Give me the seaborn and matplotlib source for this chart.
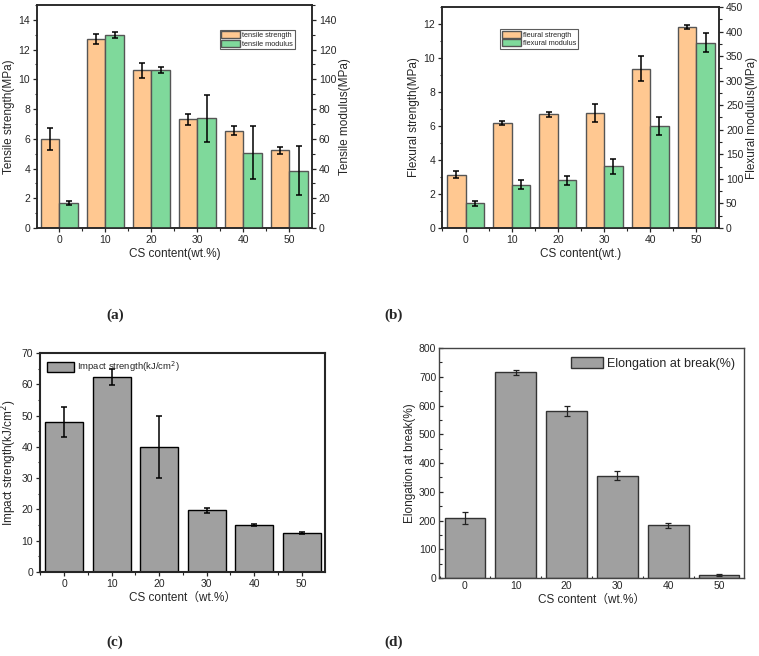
import pandas as pd
import numpy as np
import matplotlib
matplotlib.use('Agg')
import matplotlib.pyplot as plt
import matplotlib.patches as mpatches
from matplotlib.ticker import MultipleLocator, FixedLocator
import seaborn as sns

# data
cs = ['0', '10', '20', '30', '40', '50']

tensile_strength = [6.0, 12.7, 10.6, 7.3, 6.55, 5.22]
tensile_strength_err = [0.75, 0.33, 0.5, 0.37, 0.3, 0.25]
tensile_modulus = [16.9, 129.7, 106.3, 73.9, 50.7, 38.5]
tensile_modulus_err = [1.2, 1.8, 1.9, 15.8, 18.0, 16.5]

flex_strength = [3.14, 6.15, 6.68, 6.78, 9.38, 11.8]
flex_strength_err = [0.2, 0.12, 0.17, 0.54, 0.74, 0.12]
flex_modulus = [50.7, 88.0, 96.8, 125.8, 208.0, 377.0]
flex_modulus_err = [5.0, 9.0, 9.5, 15.5, 19.0, 19.5]

impact = [48.0, 62.2, 40.1, 19.7, 14.9, 12.6]
impact_err = [4.7, 2.6, 9.9, 0.9, 0.35, 0.3]

elongation = [209, 715, 581, 356, 183, 10.5]
elongation_err = [20, 8, 16, 16, 9.5, 2]

ORANGE = '#FFC891'
GREEN = '#7FD99B'
GRAY = '#A0A0A0'
TICK_FS = 7.5
LABEL_FS = 8.5

sns.set_theme(style='ticks')
plt.rcParams['font.family'] = ['Liberation Sans', 'Noto Sans CJK SC', 'DejaVu Sans']
plt.rcParams['axes.linewidth'] = 1.1

fig = plt.figure(figsize=(7.59, 6.56), dpi=100)


def add_err(ax, patches, errs):
    xs = [p.get_x() + p.get_width() / 2 for p in patches]
    ys = [p.get_height() for p in patches]
    ax.errorbar(xs, ys, yerr=errs, fmt='none', ecolor='black', elinewidth=1.1,
                capsize=2.2, capthick=1.1, zorder=5)


def style_axis(ax, direction='out'):
    ax.tick_params(axis='both', labelsize=TICK_FS, direction=direction, length=3, width=0.9, pad=2)
    ax.tick_params(axis='both', which='minor', direction=direction, length=1.8, width=0.8)
    ax.xaxis.set_minor_locator(FixedLocator([-0.5, 0.5, 1.5, 2.5, 3.5, 4.5, 5.5]))
    for s in ax.spines.values():
        s.set_visible(True)


def twin_panel(rect, left_vals, left_err, right_vals, right_err, names, ylims,
               ylabels, xlabel, legend_loc, xlim):
    ax = fig.add_axes(rect)
    ax2 = ax.twinx()
    nan6 = [np.nan] * len(cs)
    # each axis gets both hue levels so the bars dodge; the other series is blank
    df1 = pd.DataFrame({'cs': cs * 2, 'val': list(left_vals) + nan6,
                        'series': [names[0]] * 6 + [names[1]] * 6})
    df2 = pd.DataFrame({'cs': cs * 2, 'val': nan6 + list(right_vals),
                        'series': [names[0]] * 6 + [names[1]] * 6})
    for a, d in [(ax, df1), (ax2, df2)]:
        sns.barplot(data=d, x='cs', y='val', hue='series', hue_order=names, order=cs,
                    palette=[ORANGE, GREEN], width=0.8, errorbar=None, ax=a,
                    edgecolor='#555555', linewidth=1.0, saturation=1, legend=False)
    p1 = [p for p in ax.patches if p.get_height() > 0]
    p2 = [p for p in ax2.patches if p.get_height() > 0]
    add_err(ax, p1, left_err)
    add_err(ax2, p2, right_err)
    ax.set_ylim(*ylims[0])
    ax2.set_ylim(*ylims[1])
    ax.set_xlim(*xlim)
    ax.set_ylabel(ylabels[0], fontsize=LABEL_FS, labelpad=2)
    ax2.set_ylabel(ylabels[1], fontsize=LABEL_FS, labelpad=2)
    ax.set_xlabel(xlabel, fontsize=LABEL_FS, labelpad=2)
    style_axis(ax)
    style_axis(ax2)
    handles = [mpatches.Patch(facecolor=ORANGE, edgecolor='#555555', label=names[0]),
               mpatches.Patch(facecolor=GREEN, edgecolor='#555555', label=names[1])]
    leg = ax2.legend(handles=handles, loc='upper left', bbox_to_anchor=legend_loc,
                     fontsize=5.3, frameon=True, fancybox=False, edgecolor='#333333',
                     handlelength=2.6, handleheight=1.1, borderpad=0.2,
                     labelspacing=0.1, handletextpad=0.3, borderaxespad=0)
    leg.get_frame().set_linewidth(0.8)
    return ax, ax2


# (a) tensile
ax_a, ax_a2 = twin_panel([0.0487, 0.6524, 0.3623, 0.34],
                         tensile_strength, tensile_strength_err,
                         tensile_modulus, tensile_modulus_err,
                         ['tensile strength', 'tensile modulus'],
                         [(0, 15), (0, 150)],
                         ['Tensile strength(MPa)', 'Tensile modulus(MPa)'],
                         'CS content(wt.%)', (0.664, 0.89), (-0.49, 5.49))
ax_a.yaxis.set_major_locator(MultipleLocator(2))
ax_a.yaxis.set_minor_locator(MultipleLocator(1))
ax_a2.yaxis.set_major_locator(MultipleLocator(20))
ax_a2.yaxis.set_minor_locator(MultipleLocator(10))

# (b) flexural
ax_b, ax_b2 = twin_panel([0.5823, 0.6524, 0.365, 0.337],
                         flex_strength, flex_strength_err,
                         flex_modulus, flex_modulus_err,
                         ['fleural strength', 'flexural modulus'],
                         [(0, 13), (0, 450)],
                         ['Flexural strength(MPa)', 'Flexural modulus(MPa)'],
                         'CS content(wt.)', (0.21, 0.90), (-0.51, 5.49))
ax_b.yaxis.set_major_locator(MultipleLocator(2))
ax_b.yaxis.set_minor_locator(MultipleLocator(1))
ax_b2.yaxis.set_major_locator(MultipleLocator(50))
ax_b2.yaxis.set_minor_locator(MultipleLocator(25))

# (c) impact
ax_c = fig.add_axes([0.0527, 0.128, 0.3755, 0.334])
df_c = pd.DataFrame({'cs': cs, 'val': impact})
sns.barplot(data=df_c, x='cs', y='val', order=cs, color=GRAY, saturation=1,
            width=0.8, errorbar=None, edgecolor='black', linewidth=1.0, ax=ax_c)
add_err(ax_c, ax_c.patches, impact_err)
ax_c.set_ylim(0, 70)
ax_c.set_xlim(-0.51, 5.49)
ax_c.yaxis.set_major_locator(MultipleLocator(10))
ax_c.yaxis.set_minor_locator(MultipleLocator(5))
ax_c.set_ylabel('Impact strength(kJ/cm$^2$)', fontsize=LABEL_FS, labelpad=2)
ax_c.set_xlabel('CS content\uff08wt.%\uff09', fontsize=LABEL_FS, labelpad=2)
style_axis(ax_c)
for s in ax_c.spines.values():
    s.set_linewidth(1.5)
ax_c.legend(handles=[mpatches.Patch(facecolor=GRAY, edgecolor='black',
                                    label='Impact strength(kJ/cm$^2$)')],
            loc='upper left', fontsize=6.8, frameon=False, handlelength=2.9,
            handleheight=1.2, borderaxespad=0.3, handletextpad=0.3)

# (d) elongation
ax_d = fig.add_axes([0.5784, 0.1189, 0.4018, 0.3506])
df_d = pd.DataFrame({'cs': cs, 'val': elongation})
sns.barplot(data=df_d, x='cs', y='val', order=cs, color=GRAY, saturation=1,
            width=0.8, errorbar=None, edgecolor='#333333', linewidth=1.0, ax=ax_d)
xs = [p.get_x() + p.get_width() / 2 for p in ax_d.patches]
ax_d.errorbar(xs, elongation, yerr=elongation_err, fmt='none', ecolor='#222222',
              elinewidth=0.9, capsize=2.2, capthick=0.9, zorder=5)
ax_d.set_ylim(0, 800)
ax_d.set_xlim(-0.51, 5.49)
ax_d.yaxis.set_major_locator(MultipleLocator(100))
ax_d.yaxis.set_minor_locator(MultipleLocator(50))
ax_d.set_ylabel('Elongation at break(%)', fontsize=LABEL_FS, labelpad=2)
ax_d.set_xlabel('CS content\uff08wt.%\uff09', fontsize=LABEL_FS, labelpad=2)
style_axis(ax_d, direction='in')
for s in ax_d.spines.values():
    s.set_linewidth(1.0)
    s.set_color('#444444')
ax_d.legend(handles=[mpatches.Patch(facecolor=GRAY, edgecolor='#333333',
                                    label='Elongation at break(%)')],
            loc='upper right', fontsize=9, frameon=False, handlelength=2.6,
            handleheight=1.0, borderaxespad=0.3, handletextpad=0.3)

# panel letters
for x, y, t in [(0.1515, 0.52, '(a)'), (0.519, 0.52, '(b)'),
                (0.1515, 0.021, '(c)'), (0.519, 0.021, '(d)')]:
    fig.text(x, y, t, ha='center', va='center', fontsize=11, fontweight='bold',
             family='Liberation Serif')

fig.savefig('out.png', dpi=100)
